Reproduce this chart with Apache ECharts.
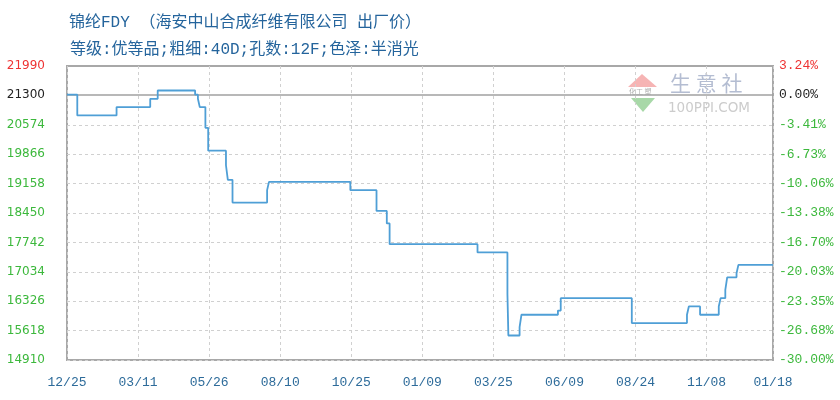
<!DOCTYPE html>
<html>
<head>
<meta charset="utf-8">
<script src="https://cdn.jsdelivr.net/npm/echarts@6/dist/echarts.min.js"></script>
<style>
html,body{margin:0;padding:0;background:#fff;}
#chart{width:840px;height:400px;}
</style>
</head>
<body>
<div id="chart"></div>
<script>
// ---- data ----
var titleLine1 = '锦纶FDY （海安中山合成纤维有限公司 出厂价）';
var titleLine2 = '等级:优等品;粗细:40D;孔数:12F;色泽:半消光';
var startDate = '2022-12-25';
var endDate = '2025-01-18';
var xTickDates = ['2022-12-25','2023-03-11','2023-05-26','2023-08-10','2023-10-25','2024-01-09','2024-03-25','2024-06-09','2024-08-24','2024-11-08','2025-01-18'];
var yTickValues = [14910,15618,16326,17034,17742,18450,19158,19866,20574,21300,21990];
var yGridValues = [14910,15618,16326,17034,17742,18450,19158,19866,20574];
var pctTickLabels = ['-30.00%','-26.68%','-23.35%','-20.03%','-16.70%','-13.38%','-10.06%','-6.73%','-3.41%','0.00%','3.24%'];
var basePrice = 21300;
var yMin = 14910, yMax = 21990;
// price change dates and new prices (step series)
var changeDates = ['2022-12-25','2023-01-05','2023-02-16','2023-03-24','2023-04-01','2023-05-11','2023-05-14','2023-05-16','2023-05-22','2023-05-25','2023-06-13','2023-06-15','2023-06-20','2023-07-27','2023-07-29','2023-10-24','2023-11-21','2023-12-02','2023-12-05','2024-03-08','2024-04-09','2024-04-10','2024-04-22','2024-04-24','2024-06-02','2024-06-05','2024-08-20','2024-10-18','2024-10-20','2024-11-01','2024-11-21','2024-11-23','2024-11-28','2024-11-30','2024-12-10','2024-12-12','2025-01-18'];
var prices = [21300,20800,21000,21200,21400,21300,21200,21000,20500,19950,19600,19250,18700,19000,19200,19000,18500,18200,17700,17500,16500,15500,15700,16000,16100,16400,15800,16000,16200,16000,16200,16400,16600,16900,17000,17200,17200];

var green = '#3cb83c', red = '#ee3333', black = '#222222';
function pad(n){return n<10?'0'+n:''+n;}
function toTs(s){var p=s.split('-'); return new Date(+p[0], +p[1]-1, +p[2]).getTime();}
function priceColor(v){
  v = +v;
  if (v === basePrice) return black;
  return v > basePrice ? red : green;
}

var seriesData = changeDates.map(function(d,i){return [toTs(d), prices[i]];});
var xTicks = xTickDates.map(toTs);
var titleFont = 'Liberation Mono, Noto Sans CJK SC';

var chart = echarts.init(document.getElementById('chart'), null, {renderer:'canvas'});
chart.setOption({
  animation: false,
  backgroundColor: '#ffffff',
  title: [
    {text: titleLine1, left: 64, top: 10, textStyle:{fontSize:16, fontWeight:'normal', color:'#24649c', fontFamily:titleFont}},
    {text: titleLine2, left: 65, top: 37, textStyle:{fontSize:16, fontWeight:'normal', color:'#24649c', fontFamily:titleFont}}
  ],
  grid: {left: 67, right: 67, top: 66, bottom: 40, show: true, borderColor: '#a8a8a8', borderWidth: 2, backgroundColor:'transparent'},
  xAxis: {
    type: 'value',
    min: toTs(startDate),
    max: toTs(endDate),
    axisLine: {show: false},
    axisTick: {show: false, customValues: xTicks},
    splitLine: {show: true, lineStyle: {color: '#d0d0d0', type: [3,3], width: 1}},
    axisLabel: {
      customValues: xTicks,
      margin: 16,
      color: '#2d6b9a',
      fontSize: 13,
      fontFamily: 'Liberation Mono',
      formatter: function(v){var d=new Date(+v); return pad(d.getMonth()+1)+'/'+pad(d.getDate());}
    }
  },
  yAxis: [
    {
      type: 'value', min: yMin, max: yMax, position: 'left',
      axisLine: {show:false}, axisTick: {show:false, customValues: yGridValues},
      splitLine: {show: true, lineStyle: {color:'#d0d0d0', type:[3,3], width:1}},
      axisLabel: {customValues: yTickValues, margin: 22, fontSize: 12, fontFamily:'DejaVu Sans',
        formatter: function(v){return String(Math.round(v));},
        color: function(v){return priceColor(v);}}
    },
    {
      type: 'value', min: yMin, max: yMax, position: 'right',
      axisLine: {show:false}, axisTick: {show:false}, splitLine: {show:false},
      axisLabel: {customValues: yTickValues, margin: 6, fontSize: 13, fontFamily:'Liberation Mono', align:'left',
        color: function(v){return priceColor(v);},
        formatter: function(v){var i = yTickValues.indexOf(+v); return i>=0 ? pctTickLabels[i] : '';}}
    }
  ],
  graphic: [
    {type:'polygon', silent:true, z:0, shape:{points:[[642,74],[628,87],[657,87]]}, style:{fill:'#f6b4b4'}},
    {type:'text', silent:true, z:0, left:629, top:88, style:{text:'化工 塑', fontSize:7, fill:'#b0b0b0', fontFamily:'Noto Sans CJK SC'}},
    {type:'polygon', silent:true, z:0, shape:{points:[[631,98],[655,98],[643,112]]}, style:{fill:'#a8d8a8'}},
    {type:'text', silent:true, z:0, left:670, top:73, style:{text:'生 意 社', fontSize:21, fill:'#b4bdd2', fontFamily:'Noto Sans CJK SC'}},
    {type:'text', silent:true, z:0, left:668, top:101, style:{text:'100PPI.COM', fontSize:13.5, fill:'#cccccc', fontFamily:'DejaVu Sans'}}
  ],
  series: [{
    type: 'line',
    step: 'end',
    showSymbol: false,
    symbol: 'none',
    data: seriesData,
    lineStyle: {color:'#4f9fd6', width: 1.8},
    z: 5,
    markLine: {
      silent: true, symbol: ['none','none'], label:{show:false},
      lineStyle: {color:'#a0a0a0', type:'solid', width:1.5},
      data: [{yAxis: basePrice}],
      z: 3
    }
  }]
});
</script>
</body>
</html>
